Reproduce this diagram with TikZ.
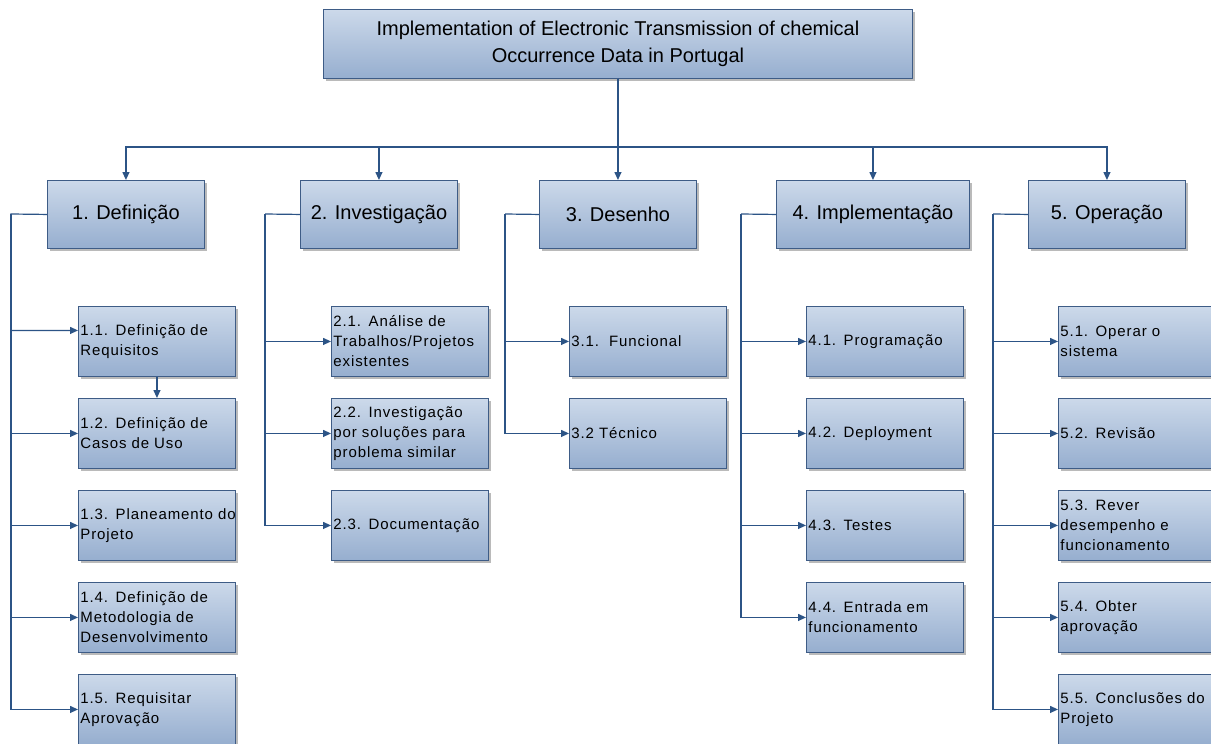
\documentclass[tikz,border=0pt]{standalone}
\usepackage{fontspec}
\setmainfont{Liberation Sans}
\newfontfamily\childfont[LetterSpace=6]{Liberation Sans}
\usetikzlibrary{arrows.meta,shadows,calc}
\definecolor{boxtop}{RGB}{204,217,234}
\definecolor{boxbot}{RGB}{150,174,207}
\definecolor{boxline}{RGB}{62,92,134}
\definecolor{conn}{RGB}{44,84,134}
\tikzset{
  boxbase/.style={draw=boxline, line width=0.9pt, top color=boxtop, bottom color=boxbot,
    drop shadow={shadow xshift=2.5pt, shadow yshift=-2.5pt, opacity=0.45, fill=black!60},
    anchor=north west, inner sep=0pt, text=black},
  topbox/.style={boxbase, minimum width=589pt, minimum height=69pt, align=center,
    font=\fontsize{20}{27}\selectfont},
  phase/.style={boxbase, minimum width=157pt, minimum height=68pt, align=center,
    font=\fontsize{20}{24}\selectfont},
  task/.style={boxbase, text width=153pt, inner xsep=2pt, minimum height=70pt, align=left,
    font=\childfont\fontsize{15}{20}\selectfont},
  arr/.style={draw=conn, line width=1.2pt, -{Triangle[length=8pt,width=7pt]}},
  ln/.style={draw=conn, line width=1.2pt}
}
\begin{document}
\begin{tikzpicture}[x=1pt,y=-1pt]
\fill[white] (0,0) rectangle (1211,744);
\useasboundingbox (0,0) rectangle (1211,744);
\begin{scope}
\clip (0,0) rectangle (1211,744);
% top
\node[topbox] (top) at (323,9) {Implementation of Electronic Transmission of chemical\\Occurrence Data in Portugal};
% phases
\node[phase] (d1) at (47,180) {1. Definição};
\node[phase] (d2) at (300,180) {2. Investigação};
\node[phase] (d3) at (539,180) {3. Desenho};
\node[phase, minimum width=193pt] (d4) at (776,180) {4. Implementação};
\node[phase] (d5) at (1028,180) {5. Operação};
\coordinate (bus) at (618,147);
\foreach \d in {d1,d2,d3,d4,d5}{
  \draw[arr] (top.south) |- (bus -| \d.north) -- (\d.north);
}
% tasks 1
\node[task] (c11) at (78,306) {1.1. Definição de\\Requisitos};
\node[task] (c12) at (78,398) {1.2. Definição de\\Casos de Uso};
\node[task] (c13) at (78,490) {\mbox{1.3. Planeamento do}\\Projeto};
\node[task] (c14) at (78,582) {1.4. Definição de\\Metodologia de\\Desenvolvimento};
\node[task] (c15) at (78,674) {1.5. Requisitar\\Aprovação};
% tasks 2
\node[task] (c21) at (331,306) {2.1. Análise de\\Trabalhos/Projetos\\existentes};
\node[task] (c22) at (331,398) {2.2. Investigação\\por soluções para\\problema similar};
\node[task] (c23) at (331,490) {2.3. Documentação};
% tasks 3
\node[task] (c31) at (569,306) {3.1.\ \ Funcional};
\node[task] (c32) at (569,398) {3.2 Técnico};
% tasks 4
\node[task] (c41) at (806,306) {4.1. Programação};
\node[task] (c42) at (806,398) {4.2. Deployment};
\node[task] (c43) at (806,490) {4.3. Testes};
\node[task] (c44) at (806,582) {4.4. Entrada em\\funcionamento};
% tasks 5
\node[task] (c51) at (1058,306) {5.1. Operar o\\sistema};
\node[task] (c52) at (1058,398) {5.2. Revisão};
\node[task] (c53) at (1058,490) {5.3. Rever\\desempenho e\\funcionamento};
\node[task] (c54) at (1058,582) {5.4. Obter\\aprovação};
\node[task] (c55) at (1058,674) {\mbox{5.5. Conclusões do}\\Projeto};
% trunks
\coordinate (t1) at (11,214);
\coordinate (t2) at (265,214);
\coordinate (t3) at (505,214);
\coordinate (t4) at (741,214);
\coordinate (t5) at (993,214);
\draw[arr] (d1.west) -- (t1) |- ([yshift=11pt]c11.west);
\foreach \c in {c12,c13,c14,c15}{\draw[arr] (t1) |- (\c.west);}
\draw[arr] (c11.south) -- (c12.north);
\draw[ln] (d2.west) -- (t2);
\foreach \c in {c21,c22,c23}{\draw[arr] (t2) |- (\c.west);}
\draw[ln] (d3.west) -- (t3);
\foreach \c in {c31,c32}{\draw[arr] (t3) |- (\c.west);}
\draw[ln] (d4.west) -- (t4);
\foreach \c in {c41,c42,c43,c44}{\draw[arr] (t4) |- (\c.west);}
\draw[ln] (d5.west) -- (t5);
\foreach \c in {c51,c52,c53,c54,c55}{\draw[arr] (t5) |- (\c.west);}
\end{scope}
\end{tikzpicture}
\end{document}
